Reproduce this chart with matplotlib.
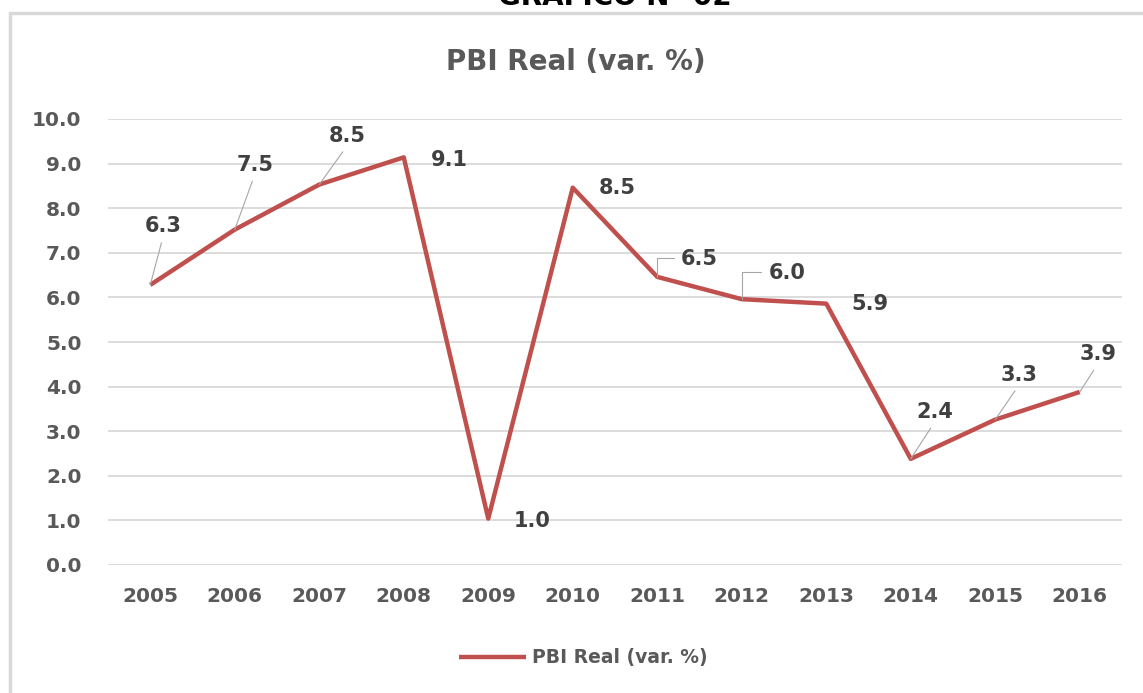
import matplotlib.pyplot as plt
from matplotlib.patches import Rectangle

# =========================
# DATOS
# =========================
anios = ["2005", "2006", "2007", "2008", "2009", "2010",
         "2011", "2012", "2013", "2014", "2015", "2016"]
pbi_real = [6.28, 7.52, 8.53, 9.14, 1.04, 8.46, 6.46, 5.96, 5.86, 2.38, 3.26, 3.88]
y_ticks = [0, 1, 2, 3, 4, 5, 6, 7, 8, 9, 10]

# posicion de etiquetas (pixeles respecto al punto) y tipo de guia
offsets = [(13, 59), (20, 65), (28, 49), (46, -3), (44, -2), (44, 0),
           (42, 18), (45, 26), (44, 0), (24, 47), (24, 45), (18, 38)]
guias = ["line", "line", "line", None, None, None,
         "elbow", "elbow", None, "line", "line", "line"]

rojo = "#c0504d"
gris_txt = "#595959"
gris_lbl = "#404040"
gris_grid = "#d9d9d9"

# =========================
# GRAFICO
# =========================
fig = plt.figure(figsize=(11.43, 6.93), dpi=100)
ax = fig.add_axes([108 / 1143, 1 - 565 / 693, 1014 / 1143, 446 / 693])

x = list(range(len(anios)))
ax.plot(x, pbi_real, color=rojo, lw=3.2, solid_joinstyle="round", solid_capstyle="butt",
        label="PBI Real (var. %)", zorder=3)

ax.set_xlim(-0.5, len(anios) - 0.5)
ax.set_ylim(0, 10)
ax.set_yticks(y_ticks)
ax.set_yticklabels([f"{v:.1f}" for v in y_ticks])
ax.set_xticks(x)
ax.set_xticklabels(anios)
ax.grid(True, axis="y", color=gris_grid, lw=1.3)
ax.set_axisbelow(True)
for s in ax.spines.values():
    s.set_visible(False)
ax.tick_params(axis="both", length=0, colors=gris_txt, labelsize=14.5)
ax.tick_params(axis="y", pad=19)
ax.tick_params(axis="x", pad=16)
for t in ax.get_xticklabels() + ax.get_yticklabels():
    t.set_fontweight("bold")

# etiquetas de datos
for xi, v, (dx, dy), g in zip(x, pbi_real, offsets, guias):
    props = None
    if g == "line":
        props = dict(arrowstyle="-", color="#a6a6a6", lw=0.8, relpos=(0.5, 0),
                     shrinkA=3, shrinkB=0)
    elif g == "elbow":
        props = dict(arrowstyle="-", color="#a6a6a6", lw=0.8, relpos=(0, 0.55),
                     shrinkA=3, shrinkB=0, connectionstyle="angle,angleA=180,angleB=90,rad=0")
    ax.annotate(f"{v:.1f}", xy=(xi, v), xytext=(dx, dy), textcoords="offset pixels",
                ha="center", va="center", fontsize=15, fontweight="bold",
                color=gris_lbl, arrowprops=props, zorder=4)

# titulo
fig.text(576 / 1143, 1 - 62 / 693, "PBI Real (var. %)", ha="center", va="center",
         fontsize=20, fontweight="bold", color=gris_txt)
# encabezado del documento, cortado arriba como en la imagen original
fig.text(615 / 1143, 1 - 5 / 693, "GRÁFICO N° 02", ha="center", va="baseline",
         fontsize=20, fontweight="bold", color="black")

# leyenda
leg = fig.legend(loc="center", bbox_to_anchor=(583 / 1143, 1 - 658 / 693), frameon=False,
                 handlelength=3.6, handletextpad=0.3, prop=dict(size=13.5, weight="bold"))
for t in leg.get_texts():
    t.set_color(gris_txt)

# borde del grafico
fig.patches.append(Rectangle((10 / 1143, -0.1), 2, 1 - 13 / 693 + 0.1, transform=fig.transFigure,
                             fill=False, ec=gris_grid, lw=2.5))

fig.savefig("out.png", dpi=100)
